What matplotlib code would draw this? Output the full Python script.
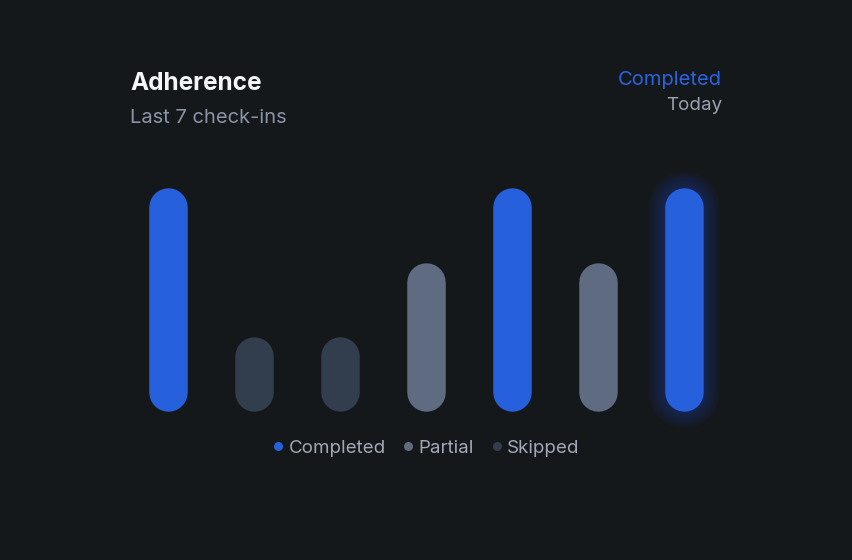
import matplotlib
matplotlib.use("Agg")
import matplotlib.pyplot as plt
from matplotlib.lines import Line2D

# ---- data ----
checkins = [1, 2, 3, 4, 5, 6, 7]
values = [3, 1, 1, 2, 3, 2, 3]
statuses = ["Completed", "Skipped", "Skipped", "Partial", "Completed", "Partial", "Completed"]
legend_labels = ["Completed", "Partial", "Skipped"]

BG = "#15181b"
COLORS = {"Completed": "#2760dc", "Partial": "#5f6b80", "Skipped": "#323d4d"}
plt.rcParams["font.family"] = ["Inter", "DejaVu Sans"]

W, H, DPI = 852, 560, 100
fig = plt.figure(figsize=(W / DPI, H / DPI), dpi=DPI, facecolor=BG)

# axes: x centers every 86 px starting 168; y 0 at px 411, 3 at px 188
left_px, right_px = 125, 125 + 7 * 86
bot_px, top_px = 411, 188
ax = fig.add_axes([left_px / W, 1 - bot_px / H, (right_px - left_px) / W, (bot_px - top_px) / H])
ax.set_facecolor(BG)
ax.set_xlim(-0.5, len(values) - 0.5)
ax.set_ylim(0, 3)
ax.axis("off")

bar_px = 38.5
lw_pt = bar_px * 72 / DPI
r_data = (bar_px / 2) / (bot_px - top_px) * 3

xs = list(range(len(values)))
for i, (x, v, s) in enumerate(zip(xs, values, statuses)):
    c = COLORS[s]
    if i == len(values) - 1:
        # glow
        for k in range(12, 0, -1):
            ax.plot([x, x], [r_data, v - r_data], color=c, alpha=0.028,
                    lw=lw_pt + k * 2.0, solid_capstyle="round", clip_on=False, zorder=1)
    ax.plot([x, x], [r_data, v - r_data], color=c, lw=lw_pt,
            solid_capstyle="round", clip_on=False, zorder=2)

# titles
fig.text(130 / W, 1 - 83 / H, "Adherence", color="#f5f6f8", fontsize=17.5,
         fontweight="bold", va="center", ha="left")
fig.text(130 / W, 1 - 118 / H, "Last 7 check-ins", color="#8a94a6", fontsize=14.5,
         va="center", ha="left")
fig.text(722 / W, 1 - 80 / H, "Completed", color="#2a63e0", fontsize=14.5,
         va="center", ha="right")
fig.text(722 / W, 1 - 106 / H, "Today", color="#9aa3b0", fontsize=13.5,
         va="center", ha="right")

# legend
handles = [Line2D([0], [0], marker="o", linestyle="none", markersize=5.5,
                  markerfacecolor=COLORS[l], markeredgecolor=COLORS[l]) for l in legend_labels]
leg = fig.legend(handles, legend_labels, loc="center", bbox_to_anchor=(426 / W, 1 - 448 / H),
                 ncol=3, frameon=False, handlelength=0.6, handletextpad=0.25,
                 columnspacing=0.9, fontsize=13.5, labelcolor="#a0a9b8")

fig.savefig("out.png", dpi=DPI, facecolor=BG)
